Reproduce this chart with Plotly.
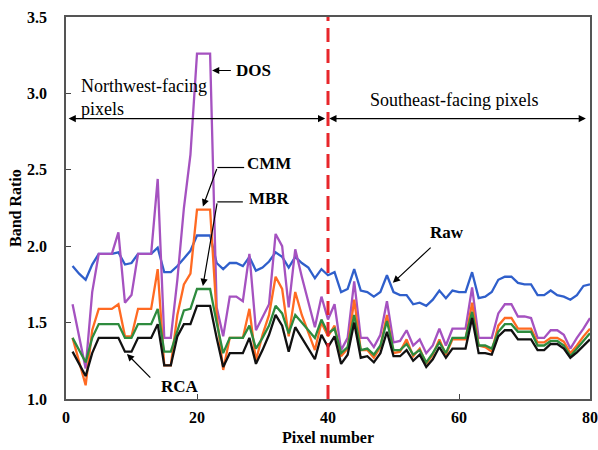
import plotly.graph_objects as go

pixel = list(range(1, 81))

raw = [1.87, 1.82, 1.78, 1.88, 1.95, 1.95, 1.95, 1.96, 1.88, 1.89,
       1.95, 1.95, 1.95, 1.99, 1.83, 1.83, 1.87, 1.92, 1.97, 2.07,
       2.07, 2.07, 1.89, 1.85, 1.89, 1.89, 1.87, 1.93, 1.84, 1.86,
       1.90, 1.96, 1.93, 1.86, 1.93, 1.89, 1.86, 1.79, 1.85, 1.81,
       1.83, 1.70, 1.72, 1.85, 1.71, 1.70, 1.67, 1.70, 1.81, 1.70,
       1.68, 1.68, 1.62, 1.63, 1.61, 1.65, 1.71, 1.66, 1.71, 1.70,
       1.70, 1.83, 1.66, 1.67, 1.70, 1.78, 1.80, 1.80, 1.76, 1.75,
       1.75, 1.68, 1.68, 1.71, 1.68, 1.67, 1.65, 1.68, 1.74, 1.75]

dos = [1.62, 1.40, 1.20, 1.70, 1.95, 1.95, 1.95, 2.09, 1.63, 1.68,
       1.95, 1.95, 1.95, 2.44, 1.40, 1.40, 1.78, 2.25, 2.60, 3.26,
       3.26, 3.26, 1.60, 1.41, 1.67, 1.67, 1.64, 1.95, 1.45, 1.53,
       1.62, 2.08, 2.00, 1.60, 1.98, 1.80, 1.63, 1.47, 1.67, 1.52,
       1.62, 1.32, 1.40, 1.77, 1.40, 1.40, 1.34, 1.42, 1.64, 1.37,
       1.38, 1.45, 1.35, 1.39, 1.30, 1.35, 1.46, 1.35, 1.46, 1.46,
       1.46, 1.73, 1.40, 1.40, 1.40, 1.56, 1.62, 1.62, 1.54, 1.54,
       1.53, 1.40, 1.40, 1.45, 1.45, 1.42, 1.33, 1.40, 1.46, 1.53]

cmm = [1.40, 1.24, 1.09, 1.45, 1.59, 1.59, 1.59, 1.62, 1.41, 1.41,
       1.59, 1.59, 1.59, 1.85, 1.22, 1.22, 1.55, 1.75, 1.82, 2.24,
       2.24, 2.24, 1.55, 1.19, 1.40, 1.40, 1.40, 1.59, 1.25, 1.42,
       1.55, 1.80, 1.72, 1.41, 1.70, 1.55, 1.43, 1.32, 1.50, 1.41,
       1.48, 1.28, 1.33, 1.65, 1.32, 1.32, 1.27, 1.34, 1.55, 1.30,
       1.31, 1.39, 1.28, 1.33, 1.23, 1.29, 1.39, 1.29, 1.39, 1.39,
       1.39, 1.63, 1.35, 1.34, 1.31, 1.48, 1.53, 1.53, 1.46, 1.46,
       1.46, 1.37, 1.37, 1.40, 1.40, 1.375, 1.30, 1.35, 1.41, 1.46]

mbr = [1.40, 1.32, 1.24, 1.40, 1.49, 1.49, 1.49, 1.49, 1.40, 1.40,
       1.49, 1.49, 1.49, 1.59, 1.31, 1.31, 1.45, 1.58, 1.59, 1.72,
       1.72, 1.72, 1.50, 1.30, 1.40, 1.40, 1.40, 1.48, 1.33, 1.40,
       1.48, 1.61, 1.56, 1.43, 1.55, 1.50, 1.45, 1.40, 1.52, 1.43,
       1.46, 1.30, 1.34, 1.55, 1.32, 1.33, 1.29, 1.35, 1.51, 1.32,
       1.32, 1.36, 1.29, 1.32, 1.24, 1.30, 1.37, 1.30, 1.40, 1.40,
       1.40, 1.57, 1.35, 1.35, 1.33, 1.44, 1.49, 1.49, 1.44, 1.44,
       1.44, 1.35, 1.35, 1.38, 1.38, 1.35, 1.28, 1.33, 1.38, 1.43]

rca = [1.31, 1.23, 1.15, 1.30, 1.40, 1.40, 1.40, 1.40, 1.31, 1.31,
       1.40, 1.40, 1.40, 1.49, 1.22, 1.22, 1.41, 1.49, 1.49, 1.61,
       1.61, 1.61, 1.40, 1.21, 1.30, 1.30, 1.30, 1.40, 1.23, 1.32,
       1.42, 1.55, 1.48, 1.31, 1.47, 1.40, 1.33, 1.26, 1.42, 1.34,
       1.41, 1.23, 1.29, 1.50, 1.27, 1.28, 1.24, 1.30, 1.44, 1.28,
       1.28, 1.32, 1.25, 1.29, 1.21, 1.26, 1.34, 1.27, 1.33, 1.33,
       1.33, 1.53, 1.30, 1.30, 1.29, 1.41, 1.45, 1.45, 1.39, 1.39,
       1.39, 1.32, 1.32, 1.36, 1.36, 1.33, 1.27, 1.305, 1.35, 1.39]

series_names = ["Raw", "DOS", "CMM", "MBR", "RCA"]
series_values = [raw, dos, cmm, mbr, rca]
series_colors = ["#2f5fcb", "#a552c0", "#ff6a22", "#2e8b3e", "#111111"]

x_ticks = [0, 20, 40, 60, 80]
y_ticks = [1.0, 1.5, 2.0, 2.5, 3.0, 3.5]

SERIF = "Liberation Serif"

fig = go.Figure()
for name, vals, col in zip(series_names, series_values, series_colors):
    fig.add_trace(go.Scatter(x=pixel, y=vals, mode="lines", name=name,
                             line=dict(color=col, width=2.3)))

# divider
fig.add_shape(type="line", xref="x", yref="y", x0=40, x1=40, y0=1.0, y1=3.5,
              line=dict(color="#e8262b", width=3, dash="14px,7px"))

# leader lines for CMM / MBR
fig.add_shape(type="line", xref="x", yref="y", x0=23.1, x1=27.2, y0=2.515, y1=2.515,
              line=dict(color="black", width=1.2))
fig.add_shape(type="line", xref="x", yref="y", x0=23.1, x1=27.0, y0=2.29, y1=2.29,
              line=dict(color="black", width=1.2))

ann = []
bold = dict(family=SERIF, size=17, color="black")

def arrow(xh, yh, xt, yt, side="end"):
    return dict(x=xh, y=yh, ax=xt, ay=yt, xref="x", yref="y", axref="x", ayref="y",
                text="", showarrow=True, arrowhead=2, arrowsize=1.2, arrowwidth=1.2,
                arrowcolor="black", arrowside=side)

# region arrows
ann.append(arrow(0.4, 2.835, 39.8, 2.835, side="end+start"))
ann.append(arrow(40.2, 2.835, 79.6, 2.835, side="end+start"))
ann.append(dict(x=2.0, y=2.975, xref="x", yref="y", text="Northwest-facing<br>pixels",
                showarrow=False, xanchor="left", yanchor="middle", align="left",
                font=dict(family=SERIF, size=18, color="black")))
ann.append(dict(x=59.2, y=2.955, xref="x", yref="y", text="Southeast-facing pixels",
                showarrow=False, xanchor="center", yanchor="middle",
                font=dict(family=SERIF, size=18, color="black")))

# DOS
ann.append(arrow(22.3, 3.15, 25.4, 3.15))
ann.append(dict(x=25.6, y=3.15, xref="x", yref="y", text="<b>DOS</b>", showarrow=False,
                xanchor="left", yanchor="middle", font=bold))
# CMM
ann.append(arrow(20.9, 2.26, 23.1, 2.515))
ann.append(dict(x=27.3, y=2.54, xref="x", yref="y", text="<b>CMM</b>", showarrow=False,
                xanchor="left", yanchor="middle", font=bold))
# MBR
ann.append(arrow(20.9, 1.74, 23.1, 2.29))
ann.append(dict(x=27.6, y=2.31, xref="x", yref="y", text="<b>MBR</b>", showarrow=False,
                xanchor="left", yanchor="middle", font=bold))
# RCA
ann.append(arrow(9.3, 1.295, 13.1, 1.13))
ann.append(dict(x=14.2, y=1.085, xref="x", yref="y", text="<b>RCA</b>", showarrow=False,
                xanchor="left", yanchor="middle", font=bold))
# Raw
ann.append(arrow(49.9, 1.76, 55.9, 2.0))
ann.append(dict(x=58.2, y=2.09, xref="x", yref="y", text="<b>Raw</b>", showarrow=False,
                xanchor="center", yanchor="middle", font=bold))

# axis titles
ann.append(dict(x=-51 / 524, y=0.5, xref="paper", yref="paper", text="<b>Band Ratio</b>",
                showarrow=False, textangle=-90, xanchor="center", yanchor="middle",
                font=dict(family=SERIF, size=16, color="black")))
ann.append(dict(x=0.5, y=0, yshift=-38, xref="paper", yref="paper", text="<b>Pixel number</b>",
                showarrow=False, xanchor="center", yanchor="middle",
                font=dict(family=SERIF, size=16, color="black")))

fig.update_layout(
    width=598, height=450,
    margin=dict(l=66, r=8, t=17, b=51, autoexpand=False),
    paper_bgcolor="white", plot_bgcolor="white",
    showlegend=False,
    annotations=ann,
    font=dict(family=SERIF, color="black"),
)
fig.update_xaxes(range=[0, 80], tickvals=x_ticks, ticktext=[f"<b>{v}</b>" for v in x_ticks],
                 ticks="inside", ticklen=5, tickwidth=1.2, tickcolor="#444",
                 showline=True, mirror=True, linecolor="#555", linewidth=1.5,
                 showgrid=False, zeroline=False, ticklabelstandoff=3, automargin=False,
                 ticklabeloverflow="allow",
                 tickfont=dict(family=SERIF, size=16, color="black"))
fig.update_yaxes(range=[1.0, 3.5], tickvals=y_ticks,
                 ticktext=[f"<b>{v:.1f}</b>" for v in y_ticks],
                 ticks="inside", ticklen=5, tickwidth=1.2, tickcolor="#444",
                 showline=True, mirror=True, linecolor="#555", linewidth=1.5,
                 showgrid=False, zeroline=False, ticklabelstandoff=14, automargin=False,
                 tickfont=dict(family=SERIF, size=16, color="black"))

fig.write_html("out.html", config={"displayModeBar": False},
               post_script="document.body.style.margin='0';document.body.style.overflow='hidden';")
